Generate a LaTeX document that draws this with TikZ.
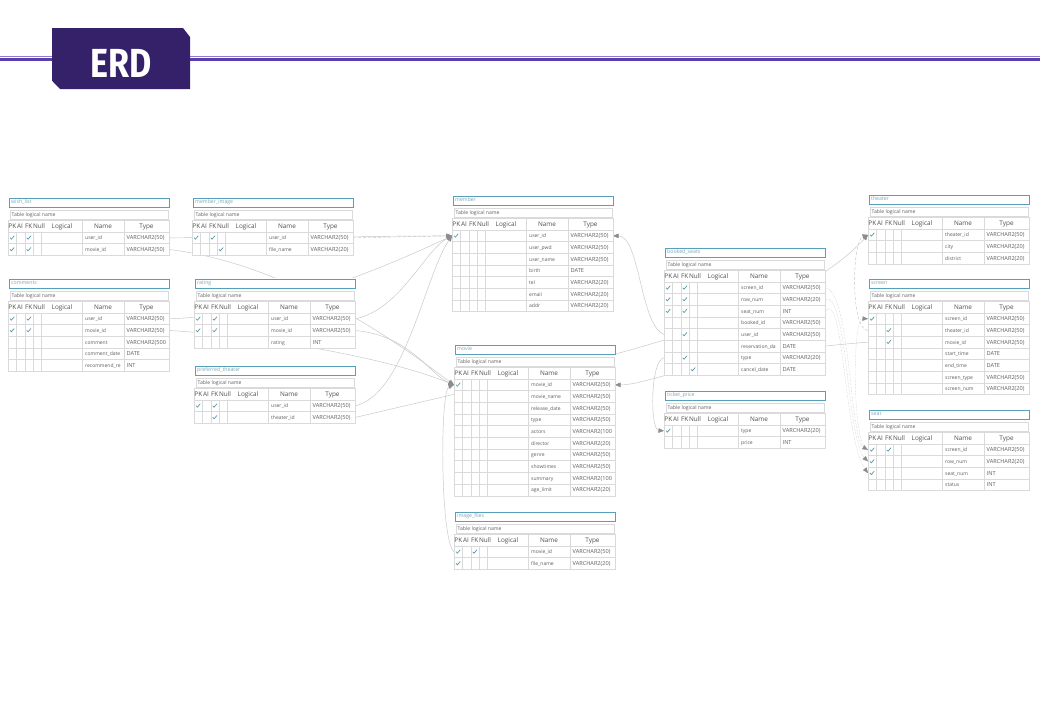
\documentclass[tikz,border=0pt]{standalone}
\usepackage{fontspec}
\setmainfont{Open Sans}
\newfontfamily\badgefont{Fira Sans}
\usetikzlibrary{arrows.meta, calc}
\definecolor{erdteal}{RGB}{88,160,186}
\definecolor{gridgray}{RGB}{218,218,218}
\definecolor{celltextgray}{RGB}{95,95,95}
\definecolor{headgray}{RGB}{80,80,80}
\definecolor{titlegray}{RGB}{125,165,180}
\definecolor{checkteal}{RGB}{85,150,165}
\definecolor{linegray}{RGB}{198,198,198}
\definecolor{arrowgray}{RGB}{140,140,140}
\definecolor{badgepurple}{RGB}{53,33,106}
\definecolor{rulelight}{RGB}{140,122,210}
\definecolor{ruledark}{RGB}{90,62,172}
\pgfdeclarelayer{background}
\pgfsetlayers{background,main}
\tikzstyle{titlebox} = [rectangle, draw=erdteal, line width=1.9pt, fill=white, anchor=north west, minimum width=160pt, minimum height=9pt, inner sep=0pt]
\tikzstyle{logbox} = [rectangle, draw=gridgray, line width=0.5pt, fill=white, anchor=north west, minimum width=158pt, minimum height=9pt, inner sep=0pt]
\tikzstyle{gridline} = [draw=gridgray, line width=0.4pt]
\tikzstyle{celltext} = [anchor=base west, inner sep=0pt, text=celltextgray, font=\fontsize{5.6}{6}\selectfont]
\tikzstyle{nametext} = [celltext, font=\fontsize{5}{6}\selectfont]
\tikzstyle{headtext} = [inner sep=0pt, text=headgray, font=\fontsize{6.4}{7}\selectfont]
\tikzstyle{titletext} = [anchor=base west, inner sep=0pt, text=titlegray, font=\fontsize{5.2}{6}\selectfont]
\tikzstyle{logtext} = [anchor=base west, inner sep=0pt, text=celltextgray, font=\fontsize{5.1}{6}\selectfont]
\tikzstyle{checkmark} = [draw=checkteal, line width=0.7pt, line cap=round, line join=round]
\tikzstyle{relation} = [draw=linegray, line width=0.45pt, -{Triangle[length=5.5pt, width=4.5pt, color=arrowgray]}]
\newcommand{\chk}[2]{\draw[checkmark] (#1-1.9,#2) -- (#1-0.6,#2+1.4) -- (#1+2.1,#2-1.9);}
% #1 id, #2 x, #3 top, #4 table name, #5 rows name/type/pk/fk/null
\newcommand{\erdtable}[5]{%
  \begin{scope}[shift={(#2,#3)}]
    \fill[white] (0,0) rectangle (161,35);
    \node (#1) [titlebox] at (0.5,0.5) {};
    \node (#1-name) [titletext] at (3,6.7) {#4};
    \node (#1-log) [logbox] at (1.5,12.5) {};
    \node (#1-logname) [logtext] at (3.5,19) {Table logical name};
    \draw[gridline, fill=white] (0,23.3) rectangle (161,35);
    \draw[gridline] (74,23.3) -- (74,35) (116,23.3) -- (116,35);
    \foreach \hd/\hx in {PK/0.2,AI/8.9,FK/16.8,Null/24.8,Logical/43.5}
      \node (#1-h\hd) [headtext, anchor=base west] at (\hx,31.4) {\hd};
    \node (#1-hName) [headtext, anchor=base] at (95,31.4) {Name};
    \node (#1-hType) [headtext, anchor=base] at (138.5,31.4) {Type};
    \foreach \nm/\ty/\pk/\fk/\nl [count=\i] in {#5} {
      \pgfmathsetmacro{\ry}{35+(\i-1)*11.67}
      \draw[gridline, fill=white] (0,\ry) rectangle (161,\ry+11.67);
      \foreach \cx in {8.3,16.7,25,33,74,116}
        \draw[gridline] (\cx,\ry) -- (\cx,\ry+11.67);
      \node (#1-\i-n) [nametext] at (77,\ry+7.8) {\nm};
      \node (#1-\i-t) [celltext] at (118.5,\ry+7.9) {\ty};
      \ifnum\pk=1 \chk{4}{\ry+5.8}\fi
      \ifnum\fk=1 \chk{20.7}{\ry+5.8}\fi
      \ifnum\nl=1 \chk{29}{\ry+5.8}\fi
      \coordinate (#1-\i-w) at (0,\ry+5.83);
      \coordinate (#1-\i-e) at (161,\ry+5.83);
    }
  \end{scope}}

\begin{document}
\begin{tikzpicture}[x=1pt, y=-1pt]
	\useasboundingbox (0,0) rectangle (1040,720);
	% header band
	\draw[rulelight, line width=0.9pt] (0,56.3) -- (1040,56.3);
	\draw[ruledark, line width=2.3pt] (0,59.5) -- (1040,59.5);
	\fill[badgepurple] (52,28) -- (183,28) -- (190,37) -- (190,89) -- (60,89) -- (52,80.7) -- cycle;
	\node (erd) [text=white, inner sep=0pt, font=\badgefont\bfseries\fontsize{40.6}{41}\selectfont] at (121,63) {\scalebox{0.84}[1]{ERD}};
	% tables
	\erdtable{wishlist}{8}{197}{wish\_list}{user\_id/VARCHAR2(50)/1/1/0,movie\_id/VARCHAR2(50)/1/1/0}
	\erdtable{comments}{8}{278}{comments}{user\_id/VARCHAR2(50)/1/1/0,movie\_id/VARCHAR2(50)/1/1/0,comment/VARCHAR2(500/0/0/0,comment\_date/DATE/0/0/0,recommend\_re/INT/0/0/0}
	\erdtable{memberimage}{192}{197}{member\_image}{user\_id/VARCHAR2(50)/1/1/0,file\_name/VARCHAR2(20)/0/0/1}
	\erdtable{rating}{194}{278}{rating}{user\_id/VARCHAR2(50)/1/1/0,movie\_id/VARCHAR2(50)/1/1/0,rating/INT/0/0/0}
	\erdtable{preferred}{194}{365}{preferred\_theater}{user\_id/VARCHAR2(50)/1/1/0,theater\_id/VARCHAR2(50)/0/1/0}
	\erdtable{member}{452}{195}{member}{user\_id/VARCHAR2(50)/1/0/0,user\_pwd/VARCHAR2(50)/0/0/0,user\_name/VARCHAR2(50)/0/0/0,birth/DATE/0/0/0,tel/VARCHAR2(20)/0/0/0,email/VARCHAR2(20)/0/0/0,addr/VARCHAR2(20)/0/0/0}
	\erdtable{movie}{454}{344}{movie}{movie\_id/VARCHAR2(50)/1/0/0,movie\_name/VARCHAR2(50)/0/0/0,release\_date/VARCHAR2(50)/0/0/0,type/VARCHAR2(50)/0/0/0,actors/VARCHAR2(100/0/0/0,director/VARCHAR2(20)/0/0/0,genre/VARCHAR2(50)/0/0/0,showtimes/VARCHAR2(50)/0/0/0,summary/VARCHAR2(100/0/0/0,age\_limit/VARCHAR2(20)/0/0/0}
	\erdtable{imagefiles}{454}{511}{image\_files}{movie\_id/VARCHAR2(50)/1/1/0,file\_name/VARCHAR2(20)/1/0/0}
	\erdtable{booked}{664}{247}{booked\_seats}{screen\_id/VARCHAR2(50)/1/1/0,row\_num/VARCHAR2(20)/1/1/0,seat\_num/INT/1/1/0,booked\_id/VARCHAR2(50)/0/0/0,user\_id/VARCHAR2(50)/0/1/0,reservation\_da/DATE/0/0/0,type/VARCHAR2(20)/0/1/0,cancel\_date/DATE/0/0/1}
	\erdtable{ticket}{664}{390}{ticket\_price}{type/VARCHAR2(20)/1/0/0,price/INT/0/0/0}
	\erdtable{theater}{868}{194}{theater}{theater\_id/VARCHAR2(50)/1/0/0,city/VARCHAR2(20)/0/0/0,district/VARCHAR2(20)/0/0/0}
	\erdtable{screen}{868}{278}{screen}{screen\_id/VARCHAR2(50)/1/0/0,theater\_id/VARCHAR2(50)/0/1/0,movie\_id/VARCHAR2(50)/0/1/0,start\_time/DATE/0/0/0,end\_time/DATE/0/0/0,screen\_type/VARCHAR2(50)/0/0/0,screen\_num/VARCHAR2(20)/0/0/0}
	\erdtable{seat}{868}{409}{seat}{screen\_id/VARCHAR2(50)/1/1/0,row\_num/VARCHAR2(20)/1/0/0,seat\_num/INT/1/0/0,status/INT/0/0/0}
	% relations, behind the tables
	\begin{pgfonlayer}{background}
		\fill[white] (0,0) rectangle (1040,720);
		\draw[relation] (wishlist-1-e) -- (member-1-w);
		\draw[relation, densely dashed] (memberimage-1-e) -- (member-1-w);
		\draw[relation] (wishlist-2-e) .. controls (300,265) and (420,360) .. (movie-1-w);
		\draw[relation] (comments-1-e) .. controls (280,315) and (400,260) .. (member-1-w);
		\draw[relation] (comments-2-e) .. controls (250,335) and (380,355) .. (movie-1-w);
		\draw[relation] (rating-1-e) .. controls (400,310) and (425,250) .. (member-1-w);
		\draw[relation] (rating-2-e) .. controls (410,335) and (430,375) .. (movie-1-w);
		\draw[relation] (preferred-1-e) .. controls (405,395) and (425,275) .. (member-1-w);
		\draw[relation] (preferred-2-e) .. controls (600,360) and (790,320) .. (theater-1-w);
		\draw[relation] (imagefiles-1-w) .. controls (440,540) and (440,390) .. (movie-1-w);
		\draw[relation] (booked-5-w) .. controls (640,325) and (640,236) .. (member-1-e);
		\draw[relation] (booked-7-w) .. controls (650,360) and (650,430) .. (ticket-1-w);
		\draw[relation] (screen-3-w) .. controls (700,355) and (650,385) .. (movie-1-e);
		\draw[relation, densely dashed] (screen-2-w) .. controls (850,330) and (852,240) .. (theater-1-w);
		\draw[relation, densely dotted] (seat-1-w) .. controls (852,449) and (852,318) .. (screen-1-w);
		\foreach \r/\cx in {1/850,2/847,3/844}
			\draw[relation, densely dotted] (booked-\r-e) .. controls (\cx,288) and (\cx,440) .. (seat-\r-w);
	\end{pgfonlayer}
\end{tikzpicture}
\end{document}
